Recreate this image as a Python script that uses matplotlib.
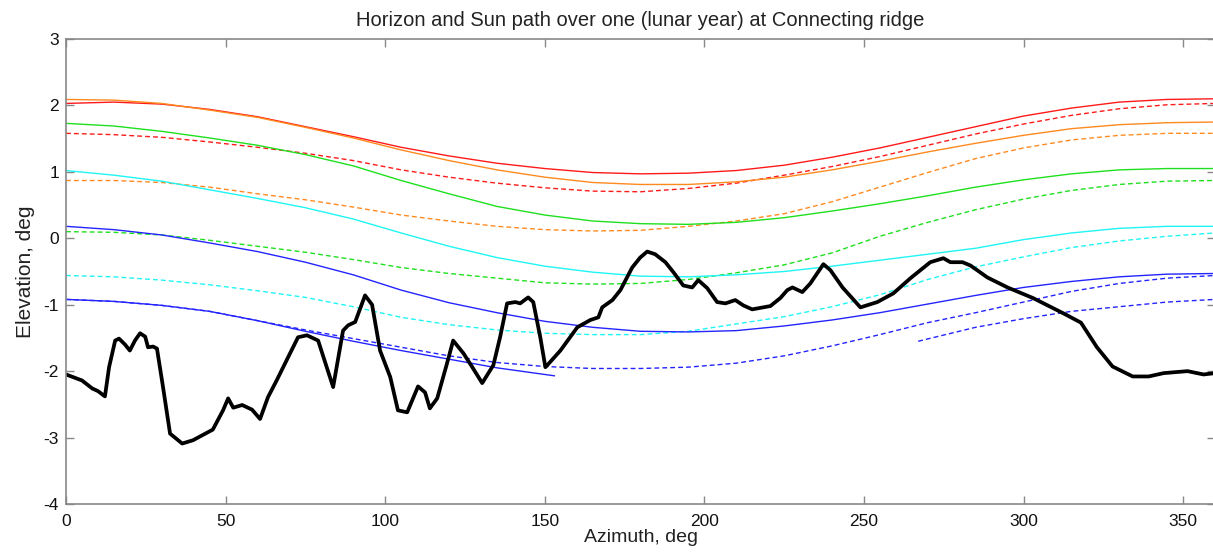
import matplotlib
matplotlib.use('Agg')
import matplotlib.pyplot as plt

plt.rcParams['font.family'] = ['Liberation Sans', 'DejaVu Sans']
plt.rcParams['axes.unicode_minus'] = False

title_text = 'Horizon and Sun path over one (lunar year) at Connecting ridge'
x_label = 'Azimuth, deg'
y_label = 'Elevation, deg'
x_ticks = [0, 50, 100, 150, 200, 250, 300, 350]
y_ticks = [-4, -3, -2, -1, 0, 1, 2, 3]

# horizon profile
horizon_az = [0, 5, 8.2, 10, 12.2, 13.5, 15.4, 16.6, 18.5, 20, 21.6, 23.2, 24.8, 25.7, 27.3, 28.5,
              30.4, 32.6, 36.4, 39.8, 46, 49.2, 50.8, 52.4, 55.2, 58.3, 60.8, 63.3, 66, 69.6, 72.7,
              75.5, 79, 83.7, 86.8, 88.4, 90.6, 93.7, 95.9, 98.4, 101.6, 104, 106.9, 110.3, 112.5,
              114, 116.3, 119.4, 121.3, 124.5, 127.3, 130.4, 133.9, 136, 138.2, 140.8, 142.3, 144.8,
              146.4, 148.6, 150.2, 150.8, 154.9, 160.2, 164.3, 166.8, 168, 171.2, 173.7, 177.4, 179.9,
              182.1, 184.6, 187.8, 190.3, 193.4, 196.2, 198.1, 200.9, 204, 206.6, 209.7, 212.2, 215,
              220.7, 223.8, 226, 227.6, 230.7, 233.2, 237.3, 239.5, 243.3, 248.9, 254.2, 259.2, 264.6,
              267.7, 270.8, 274.9, 277.1, 280.9, 283.4, 288.7, 295, 303, 312.5, 318, 323, 327.9,
              334.2, 339.2, 343.9, 351.4, 356.4, 360]
horizon_el = [-2.05, -2.14, -2.26, -2.30, -2.38, -1.94, -1.54, -1.51, -1.60, -1.69, -1.54, -1.43,
              -1.48, -1.64, -1.63, -1.66, -2.24, -2.94, -3.09, -3.04, -2.88, -2.59, -2.41, -2.55,
              -2.51, -2.58, -2.72, -2.39, -2.14, -1.79, -1.49, -1.46, -1.54, -2.24, -1.39, -1.31,
              -1.26, -0.86, -1.00, -1.69, -2.09, -2.59, -2.62, -2.23, -2.32, -2.56, -2.41, -1.88,
              -1.54, -1.73, -1.94, -2.18, -1.91, -1.49, -0.98, -0.96, -0.98, -0.89, -0.96, -1.49,
              -1.94, -1.91, -1.69, -1.34, -1.23, -1.19, -1.04, -0.93, -0.78, -0.44, -0.29, -0.20,
              -0.24, -0.36, -0.51, -0.71, -0.74, -0.63, -0.75, -0.96, -0.98, -0.93, -1.01, -1.07,
              -1.02, -0.90, -0.78, -0.74, -0.81, -0.68, -0.39, -0.48, -0.74, -1.04, -0.96, -0.83,
              -0.60, -0.48, -0.36, -0.30, -0.36, -0.36, -0.41, -0.59, -0.74, -0.90, -1.13, -1.27,
              -1.64, -1.93, -2.08, -2.08, -2.03, -2.00, -2.05, -2.03]

# sun paths, sampled every 15 deg of azimuth
sun_az = [0, 15, 30, 45, 60, 75, 90, 105, 120, 135, 150, 165, 180, 195, 210, 225, 240, 255, 270,
          285, 300, 315, 330, 345, 360]
red_solid = [2.03, 2.05, 2.02, 1.94, 1.83, 1.68, 1.53, 1.37, 1.24, 1.13, 1.05, 0.99, 0.97, 0.98,
             1.02, 1.10, 1.22, 1.36, 1.52, 1.68, 1.84, 1.96, 2.05, 2.09, 2.10]
red_dashed = [1.58, 1.56, 1.52, 1.45, 1.37, 1.28, 1.17, 1.03, 0.92, 0.83, 0.76, 0.71, 0.70, 0.75,
              0.83, 0.95, 1.08, 1.23, 1.40, 1.57, 1.72, 1.85, 1.95, 2.01, 2.03]
orange_solid = [2.09, 2.08, 2.03, 1.93, 1.82, 1.67, 1.51, 1.33, 1.17, 1.03, 0.92, 0.84, 0.81, 0.81,
                0.85, 0.92, 1.03, 1.16, 1.30, 1.43, 1.55, 1.65, 1.71, 1.74, 1.75]
orange_dashed = [0.87, 0.87, 0.84, 0.77, 0.67, 0.58, 0.47, 0.35, 0.26, 0.18, 0.13, 0.11, 0.12, 0.18,
                 0.26, 0.37, 0.55, 0.77, 0.99, 1.20, 1.36, 1.48, 1.55, 1.58, 1.58]
green_solid = [1.73, 1.69, 1.61, 1.51, 1.40, 1.26, 1.09, 0.87, 0.67, 0.48, 0.35, 0.26, 0.22, 0.21,
               0.24, 0.31, 0.41, 0.52, 0.64, 0.77, 0.88, 0.97, 1.03, 1.05, 1.05]
green_dashed = [0.10, 0.09, 0.05, -0.03, -0.12, -0.21, -0.32, -0.44, -0.53, -0.60, -0.67, -0.69,
                -0.68, -0.62, -0.52, -0.40, -0.22, 0.03, 0.24, 0.43, 0.59, 0.72, 0.81, 0.86, 0.87]
cyan_solid = [1.02, 0.95, 0.86, 0.73, 0.60, 0.46, 0.29, 0.08, -0.12, -0.29, -0.42, -0.51, -0.57,
              -0.58, -0.55, -0.50, -0.42, -0.33, -0.24, -0.15, -0.02, 0.08, 0.15, 0.18, 0.18]
cyan_dashed = [-0.56, -0.58, -0.63, -0.70, -0.79, -0.89, -1.03, -1.19, -1.30, -1.38, -1.43, -1.45,
               -1.45, -1.40, -1.29, -1.18, -1.03, -0.85, -0.62, -0.43, -0.28, -0.14, -0.04, 0.03, 0.08]
blue_solid = [0.18, 0.13, 0.05, -0.07, -0.20, -0.36, -0.55, -0.78, -0.97, -1.12, -1.25, -1.34,
              -1.40, -1.41, -1.39, -1.32, -1.23, -1.12, -0.99, -0.86, -0.74, -0.65, -0.58, -0.54, -0.53]
blue_dashed = [-0.92, -0.95, -1.01, -1.10, -1.24, -1.38, -1.51, -1.64, -1.77, -1.87, -1.93, -1.96,
               -1.96, -1.94, -1.88, -1.77, -1.62, -1.45, -1.27, -1.12, -0.96, -0.80, -0.68, -0.60, -0.56]

# partial blue tracks
blue_solid2_az = [0, 15, 30, 45, 60, 75, 90, 105, 120, 135, 150, 153]
blue_solid2_el = [-0.92, -0.95, -1.01, -1.10, -1.24, -1.40, -1.55, -1.69, -1.82, -1.95, -2.05, -2.07]
blue_dashed2_az = [267, 285, 300, 315, 330, 345, 360]
blue_dashed2_el = [-1.55, -1.34, -1.21, -1.10, -1.03, -0.96, -0.92]

red = '#ff1a1a'
orange = '#ff8a1f'
green = '#1ee01e'
cyan = '#1ff5f5'
blue = '#2424ff'
dash = (0, (3.5, 2.2))

fig = plt.figure(figsize=(12.13, 5.53), dpi=100)
ax = fig.add_axes([66 / 1213, 1 - 504 / 553, (1215 - 66) / 1213, (504 - 39) / 553])

lw = 1.0
ax.plot(sun_az, red_solid, color=red, lw=lw)
ax.plot(sun_az, red_dashed, color=red, lw=lw, ls=dash)
ax.plot(sun_az, orange_solid, color=orange, lw=lw)
ax.plot(sun_az, orange_dashed, color=orange, lw=lw, ls=dash)
ax.plot(sun_az, green_solid, color=green, lw=lw)
ax.plot(sun_az, green_dashed, color=green, lw=lw, ls=dash)
ax.plot(sun_az, cyan_solid, color=cyan, lw=lw)
ax.plot(sun_az, cyan_dashed, color=cyan, lw=lw, ls=dash)
ax.plot(sun_az, blue_solid, color=blue, lw=lw)
ax.plot(sun_az, blue_dashed, color=blue, lw=lw, ls=dash)
ax.plot(blue_solid2_az, blue_solid2_el, color=blue, lw=lw)
ax.plot(blue_dashed2_az, blue_dashed2_el, color=blue, lw=lw, ls=dash)

# horizon
ax.plot(horizon_az, horizon_el, color='black', lw=2.7, solid_joinstyle='round')

ax.set_xlim(0, 360)
ax.set_ylim(-4, 3)
ax.set_xticks(x_ticks)
ax.set_yticks(y_ticks)
ax.tick_params(direction='in', top=True, right=True, length=6, width=1,
               color='#888888', labelsize=12.5, labelcolor='#111111')
ax.tick_params(axis='x', pad=7)
ax.tick_params(axis='y', pad=5)
for s in ax.spines.values():
    s.set_color('#888888')
    s.set_linewidth(1.2)

ax.set_title(title_text, fontsize=14.5, color='#222222', pad=9)
ax.set_xlabel(x_label, fontsize=14, color='#222222', labelpad=0)
ax.set_ylabel(y_label, fontsize=15, color='#222222', labelpad=6)

fig.savefig('out.png', dpi=100)
